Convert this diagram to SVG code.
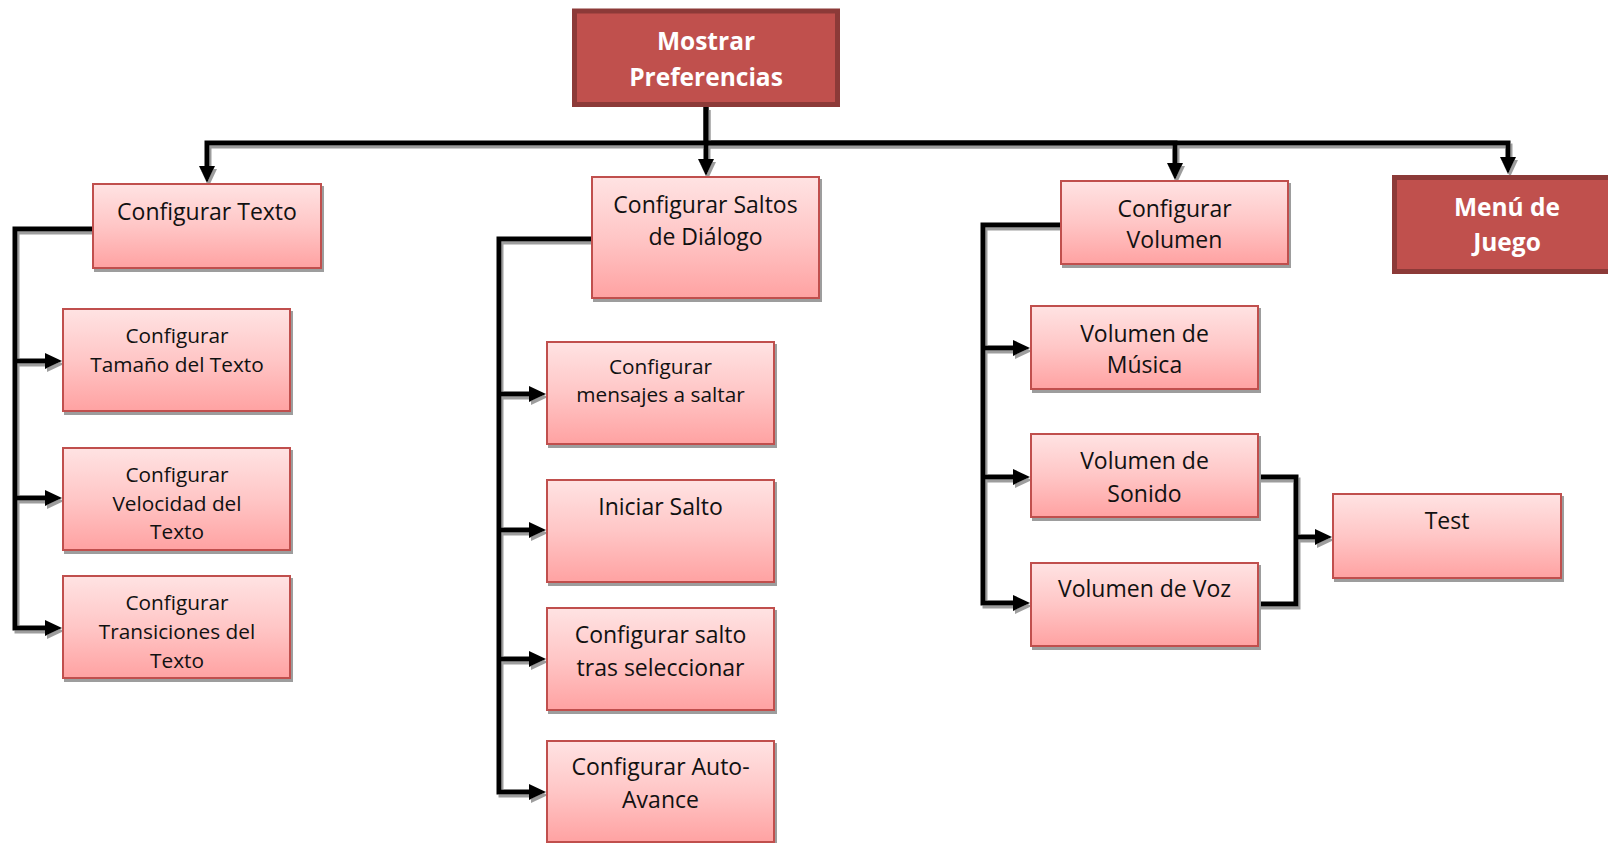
<svg xmlns="http://www.w3.org/2000/svg" width="1608" height="843" viewBox="0 0 1608 843">
<style>
.box{fill:url(#pink);stroke:#c0504d;stroke-width:2;filter:url(#bsh)}
.dark{fill:#c0504d;stroke:#8c3a38;stroke-width:5}
text{font-family:"Open Sans","Noto Sans","Liberation Sans",sans-serif;text-anchor:middle;fill:#111}
.l{font-size:23px}
.s{font-size:20.8px}
.b{font-size:24.5px;font-weight:bold;fill:#fff}
.c{fill:none;stroke:#000;stroke-width:5;stroke-linejoin:miter}
.a{marker-end:url(#arr)}
</style>
<defs>
<linearGradient id="pink" x1="0" y1="0" x2="0" y2="1">
<stop offset="0" stop-color="#ffe3e3"/>
<stop offset="0.5" stop-color="#ffc6c6"/>
<stop offset="1" stop-color="#ffa2a2"/>
</linearGradient>
<filter id="bsh" x="-5%" y="-5%" width="115%" height="120%">
<feFlood flood-color="#9d9d9d"/>
<feComposite in2="SourceAlpha" operator="in"/>
<feOffset dx="2" dy="3"/>
<feMerge><feMergeNode/><feMergeNode in="SourceGraphic"/></feMerge>
</filter>
<filter id="csh" filterUnits="userSpaceOnUse" x="0" y="0" width="1608" height="843">
<feFlood flood-color="#9d9d9d"/>
<feComposite in2="SourceAlpha" operator="in"/>
<feOffset dx="2" dy="3"/>
<feMerge><feMergeNode/><feMergeNode in="SourceGraphic"/></feMerge>
</filter>
<marker id="arr" markerUnits="userSpaceOnUse" markerWidth="18" markerHeight="17" refX="1" refY="8" orient="auto">
<path d="M0,0 L17,8 L0,16 z" fill="#000"/>
</marker>
</defs>

<g id="connectors" filter="url(#csh)">
<path class="c a" d="M706,107 V143 H207 V167"/>
<path class="c a" d="M706,107 V160"/>
<path class="c a" d="M706,143 H1175 V164"/>
<path class="c a" d="M706,143 H1508 V158"/>
<path class="c a" d="M93,229 H15 V628 H46"/>
<path class="c a" d="M15,361 H46"/>
<path class="c a" d="M15,498 H46"/>
<path class="c a" d="M592,239 H499 V792 H530"/>
<path class="c a" d="M499,394 H530"/>
<path class="c a" d="M499,530 H530"/>
<path class="c a" d="M499,659 H530"/>
<path class="c a" d="M1061,225 H983 V603 H1014"/>
<path class="c a" d="M983,348 H1014"/>
<path class="c a" d="M983,477 H1014"/>
<path class="c" d="M1258,477 H1296 V604 H1258"/>
<path class="c a" d="M1296,537 H1316"/>
</g>

<g id="n-mostrar">
<rect class="dark" x="574.5" y="11" width="263" height="93.5"/>
<text class="b" x="706" y="50">Mostrar</text>
<text class="b" x="706" y="86">Preferencias</text>
</g>
<g id="n-menu">
<rect class="dark" x="1394.5" y="177.5" width="240" height="94"/>
<text class="b" x="1507" y="216">Menú de</text>
<text class="b" x="1507" y="251">Juego</text>
</g>

<g id="n-texto">
<rect class="box" x="93" y="184" width="228" height="84"/>
<text class="l" x="207" y="220">Configurar Texto</text>
</g>
<g id="n-tamano">
<rect class="box" x="63" y="309" width="227" height="102"/>
<text class="s" x="177" y="343">Configurar</text>
<text class="s" x="177" y="372">Tamaño del Texto</text>
</g>
<g id="n-velocidad">
<rect class="box" x="63" y="448" width="227" height="102"/>
<text class="s" x="177" y="482">Configurar</text>
<text class="s" x="177" y="511">Velocidad del</text>
<text class="s" x="177" y="539">Texto</text>
</g>
<g id="n-transiciones">
<rect class="box" x="63" y="576" width="227" height="102"/>
<text class="s" x="177" y="610">Configurar</text>
<text class="s" x="177" y="639">Transiciones del</text>
<text class="s" x="177" y="668">Texto</text>
</g>

<g id="n-saltos">
<rect class="box" x="592" y="177" width="227" height="121"/>
<text class="l" x="705.5" y="213">Configurar Saltos</text>
<text class="l" x="705.5" y="245">de Diálogo</text>
</g>
<g id="n-mensajes">
<rect class="box" x="547" y="342" width="227" height="102"/>
<text class="s" x="660.5" y="374">Configurar</text>
<text class="s" x="660.5" y="402">mensajes a saltar</text>
</g>
<g id="n-iniciar">
<rect class="box" x="547" y="480" width="227" height="102"/>
<text class="l" x="660.5" y="515">Iniciar Salto</text>
</g>
<g id="n-saltosel">
<rect class="box" x="547" y="608" width="227" height="102"/>
<text class="l" x="660.5" y="643">Configurar salto</text>
<text class="l" x="660.5" y="676">tras seleccionar</text>
</g>
<g id="n-auto">
<rect class="box" x="547" y="741" width="227" height="101"/>
<text class="l" x="660.5" y="775">Configurar Auto-</text>
<text class="l" x="660.5" y="808">Avance</text>
</g>

<g id="n-volumen">
<rect class="box" x="1061" y="181" width="227" height="83"/>
<text class="l" x="1174.5" y="217">Configurar</text>
<text class="l" x="1174.5" y="248">Volumen</text>
</g>
<g id="n-musica">
<rect class="box" x="1031" y="306" width="227" height="83"/>
<text class="l" x="1144.5" y="342">Volumen de</text>
<text class="l" x="1144.5" y="373">Música</text>
</g>
<g id="n-sonido">
<rect class="box" x="1031" y="434" width="227" height="83"/>
<text class="l" x="1144.5" y="469">Volumen de</text>
<text class="l" x="1144.5" y="502">Sonido</text>
</g>
<g id="n-voz">
<rect class="box" x="1031" y="563" width="227" height="83"/>
<text class="l" x="1144.5" y="597">Volumen de Voz</text>
</g>
<g id="n-test">
<rect class="box" x="1333" y="494" width="228" height="84"/>
<text class="l" x="1447" y="529">Test</text>
</g>
</svg>
